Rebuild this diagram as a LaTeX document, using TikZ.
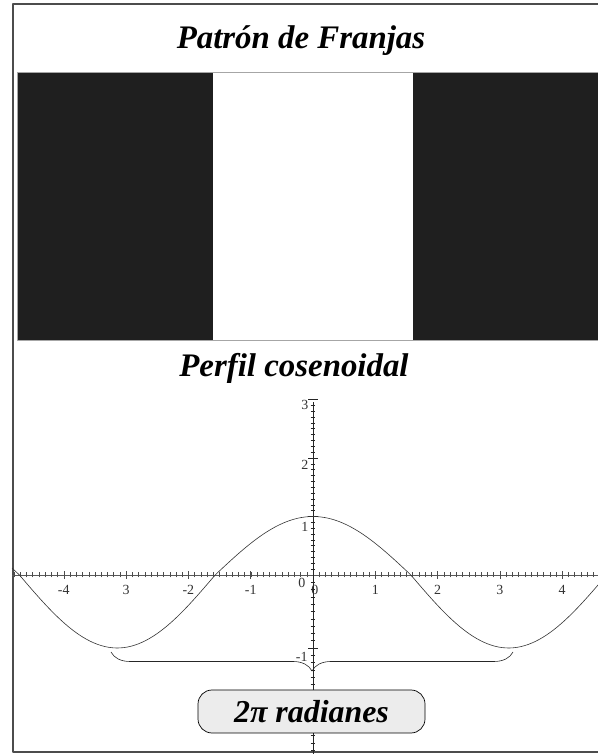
\documentclass[tikz,border=0pt]{standalone}
\usepackage{fontspec}
\setmainfont{Liberation Serif}
\usetikzlibrary{decorations.pathreplacing}

\begin{document}
\begin{tikzpicture}[
  x=1bp,y=1bp,
  heading/.style={font=\fontsize{33}{36}\selectfont\bfseries\itshape,inner sep=0pt},
  ticklabel/.style={font=\fontsize{14}{16}\selectfont,inner sep=1pt,text=black!80},
  stripe/.style={fill=black!88},
  every path/.style={line join=round}
]
  \useasboundingbox (0,0) rectangle (598,754);

  % frame
  \draw[gray!60!black,line width=1.2bp] (601,750) -- (13,750) -- (13,2) -- (601,2);

  % fringe pattern
  \fill[stripe] (17,414) rectangle (213,682);
  \fill[stripe] (413,414) rectangle (601,682);
  \draw[gray!70,line width=0.8bp] (17,414) rectangle (601,682);

  \node[heading] (fringes) at (301,713) {Patrón de Franjas};
  \node[heading] (profile) at (294,386) {Perfil cosenoidal};

  % cosine profile
  \begin{scope}[shift={(313,179)},x=62.3bp,y=1bp]
    \draw[gray!70!black,line width=0.5bp] (-4.83,0) -- (4.65,0);
    \foreach \k in {-48,...,46}
      \draw[gray!60!black,line width=0.4bp] (\k/10,-2.5) -- (\k/10,2.5);
    \foreach \k in {-4,...,4}
      \draw[gray!60!black,line width=0.5bp] (\k,-4) -- (\k,4);
    \foreach \k/\lab in {-4/-4,-3/3,-2/-2,-1/-1,1/1,2/2,3/3,4/4}
      \node[ticklabel] (xl\k) at (\k,-15) {\lab};
    \node[ticklabel] (xl0) at (0.03,-15) {0};

    \draw[black!85,line width=0.6bp] (0,-180) -- (0,173);
    \foreach \k in {1,...,30}
      \draw[black!85,line width=0.5bp] (-0.04,\k*5.85) -- (0.04,\k*5.85);
    \foreach \k in {1,...,24}
      \draw[black!85,line width=0.5bp] (-0.04,-\k*7.3) -- (0.04,-\k*7.3);
    \foreach \k in {1,2,3}
      \draw[black!85,line width=0.6bp] (-0.08,\k*58.5) -- (0.08,\k*58.5);
    \draw[black!85,line width=0.6bp] (-0.08,-73) -- (0.08,-73);
    \node[ticklabel] (yl3) at (-0.13,170) {3};
    \node[ticklabel] (yl2) at (-0.13,110) {2};
    \node[ticklabel] (yl1) at (-0.13,48) {1};
    \node[ticklabel] (yl0) at (-0.18,-8) {0};
    \node[ticklabel] (yl-1) at (-0.18,-82) {-1};

    \draw[black!80,line width=0.6bp] plot[domain=-4.83:4.65,samples=160,smooth]
      (\x,{58.5*max(cos(\x r),0)+73*min(cos(\x r),0)});
  \end{scope}

  % one period
  \coordinate (period-l) at (111,102);
  \coordinate (period-r) at (513,102);
  \draw[black!85,line width=0.6bp,decorate,decoration={brace,mirror,amplitude=19bp}]
    (period-l) -- (period-r);

  \node[draw,fill=gray!15,line width=0.7bp,rounded corners=14bp,
    minimum width=227bp,minimum height=43bp,
    font=\fontsize{32}{34}\selectfont\bfseries\itshape] (span) at (311.5,42.5)
    {2π radianes};
\end{tikzpicture}
\end{document}
